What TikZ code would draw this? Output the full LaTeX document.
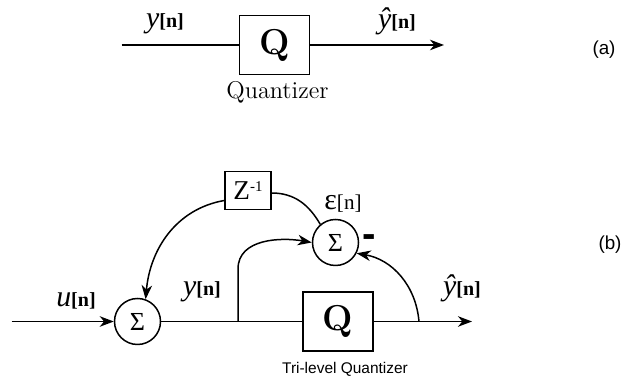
\documentclass[tikz,border=0pt]{standalone}
\usepackage{fontspec}
\setsansfont{Liberation Sans}
\newfontfamily\tnr{Liberation Serif}
\usepackage{tikz}
\usetikzlibrary{arrows.meta, positioning}

% signal name: italic letter with bold [n]
\newcommand{\sig}[1]{{\tnr\fontsize{17}{18}\selectfont\itshape #1}%
  {\tnr\fontsize{11.4}{12}\selectfont\bfseries[n]}}

\begin{document}
\begin{tikzpicture}[
  line width=0.85pt,
  qbox/.style={
    draw, minimum width=1.40cm, minimum height=1.18cm, inner sep=0pt,
    font=\fontsize{20.5}{22}\selectfont\bfseries
  },
  delaybox/.style={
    draw, minimum width=0.92cm, minimum height=0.76cm, inner sep=0pt,
    font=\tnr\fontsize{15.5}{16}\selectfont
  },
  sumnode/.style={
    draw, circle, minimum size=0.92cm, inner sep=0pt,
    font=\tnr\fontsize{14.8}{15}\selectfont
  },
  arr/.style={-{Stealth[length=8pt, width=6pt, inset=2.5pt]}},
  labl/.style={inner sep=0pt},
  capt/.style={inner sep=0pt, font=\sffamily\fontsize{10.7}{12}\selectfont}
]
\useasboundingbox (0,0) rectangle (12.42,7.54);

% (a) quantizer alone
\coordinate (ain)  at (2.43,6.64);
\coordinate (aout) at (8.88,6.64);
\node[qbox] (Qa) at (5.49,6.64) {Q};

\draw (ain) -- (Qa.west);
\draw[arr] (Qa.east) -- (aout);

\node[labl] (ya)    at (3.30,7.06) {\sig{y}};
\node[labl] (yhata) at (7.94,7.12) {\sig{ŷ}};
\node[labl, font=\fontsize{13.8}{15}\selectfont] (qname) at (5.55,5.70) {Quantizer};
\node[capt] (capa) at (12.08,6.54) {(a)};

% (b) loop round the quantizer
\coordinate (bin)  at (0.23,1.11);
\coordinate (br1)  at (4.76,1.11);
\coordinate (br2)  at (8.38,1.11);
\coordinate (bout) at (9.44,1.11);
\node[sumnode]  (S1) at (2.75,1.11) {Σ};
\node[qbox]     (Qb) at (6.76,1.11) {Q};
\node[sumnode]  (S2) at (6.71,2.69) {Σ};
\node[delaybox] (Z)  at (4.96,3.73) {Z\raisebox{4.4pt}{\fontsize{8.5}{9}\selectfont -1}};

\draw[arr] (bin) -- (S1.west);
\draw (S1.east) -- (Qb.west);
\draw[arr] (Qb.east) -- (bout);
\draw[arr] (br1) -- ++(0,1.05) to[out=90, in=170] (S2.west);
\draw[arr] (br2) to[out=95, in=-10] (S2.-27);
\draw[arr] ([yshift=-0.2cm]Z.west) to[out=190, in=85] (S1.70);
\draw ([yshift=-0.05cm]Z.east) to[out=0, in=120] (S2.130);

\node[labl] (ub)    at (1.52,1.52) {\sig{u}};
\node[labl] (yb)    at (4.04,1.70) {\sig{y}};
\node[labl] (yhatb) at (9.24,1.78) {\sig{ŷ}};
\node[labl] (eps)   at (6.86,3.46) {{\tnr\fontsize{17}{18}\selectfont ε}{\tnr\fontsize{12}{13}\selectfont[n]}};
\node[labl, font=\sffamily\bfseries\fontsize{23}{23}\selectfont] (minus) at (7.39,2.72) {-};
\node[labl, font=\sffamily\fontsize{8.8}{10}\selectfont] (qtri) at (6.90,0.16) {Tri-level Quantizer};
\node[capt] (capb) at (12.20,2.64) {(b)};

\end{tikzpicture}
\end{document}
